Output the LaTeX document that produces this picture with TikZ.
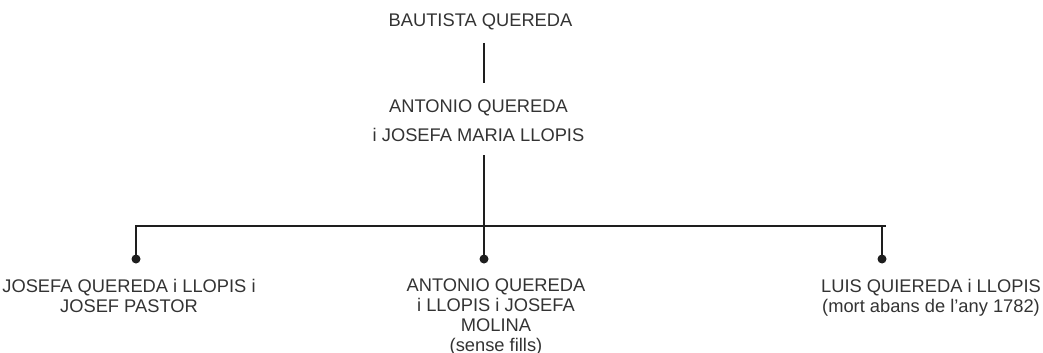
\documentclass[tikz,border=0pt]{standalone}
\usepackage{fontspec}
\setmainfont{Liberation Sans}
\definecolor{txt}{HTML}{333333}
\definecolor{ln}{HTML}{1E1E1E}
\begin{document}
\begin{tikzpicture}[x=1pt,y=-1pt,
  lbl/.style={inner sep=0pt,outer sep=0pt,anchor=north,align=center,text=txt,font=\fontsize{18.3}{20}\selectfont},
  lbltop/.style={lbl,font=\fontsize{18.3}{28.5}\selectfont},
  conn/.style={draw=ln,line width=2.2pt},
  dot/.style={fill=ln}]
\useasboundingbox (0,0) rectangle (1043,353);
\node[lbl] (bautista) at (480.5,14) {BAUTISTA QUEREDA};
\node[lbltop] (antonio) at (478.5,100) {ANTONIO QUEREDA\\i JOSEFA MARIA LLOPIS};
\node[lbl] (josefa) at (129,279) {JOSEFA QUEREDA i LLOPIS i\\JOSEF PASTOR};
\node[lbl] (antonio2) at (496,279) {ANTONIO QUEREDA\\i LLOPIS i JOSEFA\\MOLINA\\(sense fills)};
\node[lbl] (luis) at (931,279) {LUIS QUIEREDA i LLOPIS\\(mort abans de l’any 1782)};
\coordinate (a1) at (484,43);
\coordinate (a2) at (484,83);
\coordinate (p) at (484,155);
\coordinate (bar) at (484,226);
\coordinate (bl) at (136,226);
\coordinate (br) at (885,226);
\coordinate (d1) at (136,259);
\coordinate (d2) at (484,259);
\coordinate (d3) at (882,259);
\draw[conn] (a1) -- (a2);
\draw[conn] (p) -- (bar);
\draw[conn,line cap=rect] (bl) -- (br);
\draw[conn] (bl) -- (d1);
\draw[conn] (bar) -- (d2);
\draw[conn] (d3 |- br) -- (d3);
\fill[dot] (d1) circle (4.5);
\fill[dot] (d2) circle (4.5);
\fill[dot] (d3) circle (4.5);
\end{tikzpicture}
\end{document}
